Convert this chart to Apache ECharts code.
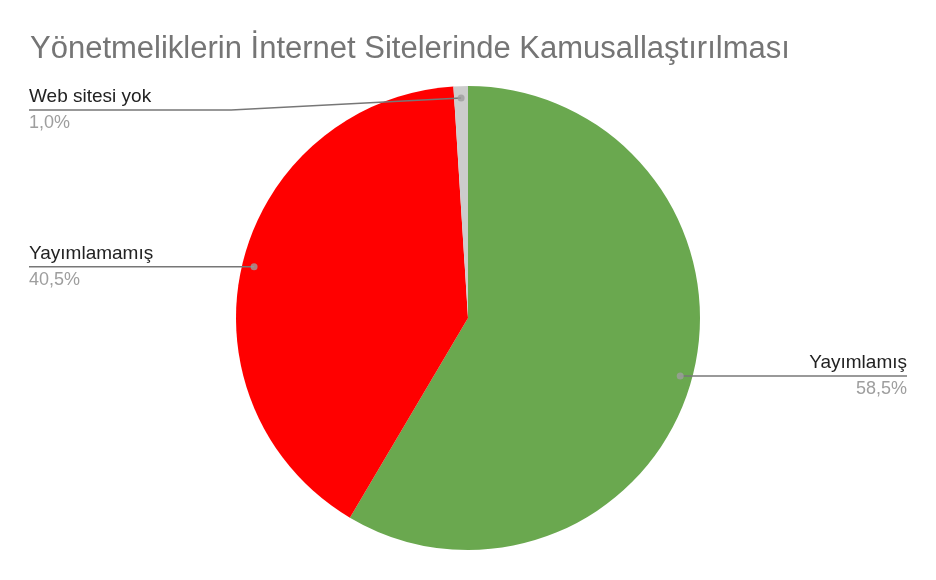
<!DOCTYPE html>
<html>
<head>
<meta charset="utf-8">
<script src="https://cdn.jsdelivr.net/npm/echarts@6/dist/echarts.min.js"></script>
<style>
  html, body { margin: 0; padding: 0; background: #fff; }
  #chart { width: 936px; height: 580px; }
</style>
</head>
<body>
<div id="chart"></div>
<script>
var categories = ['Yayımlamış', 'Yayımlamamış', 'Web sitesi yok'];
var shares = [58.5, 40.5, 1.0];
var colors = ['#6aa84f', '#ff0000', '#cccccc'];

var FONT = '"Liberation Sans", Arial, sans-serif';
var CENTER = [468, 318];

function pieData(transparent) {
    return categories.map(function (name, i) {
        return {
            name: name,
            value: shares[i],
            itemStyle: { color: transparent ? 'rgba(0,0,0,0)' : colors[i] }
        };
    });
}

// angle (0-100) at the middle of every slice, for the little dots
function midAngles() {
    var out = [];
    var acc = 0;
    for (var i = 0; i < shares.length; i++) {
        out.push([220, acc + shares[i] / 2]);
        acc += shares[i];
    }
    return out;
}

function pct(v) {
    return v.toFixed(1).replace('.', ',') + '%';
}

var myChart = echarts.init(document.getElementById('chart'));
var option = {
    backgroundColor: '#ffffff',
    animation: false,
    title: {
        text: 'Yönetmeliklerin İnternet Sitelerinde Kamusallaştırılması',
        left: 30,
        top: 34,
        padding: 0,
        textStyle: { fontFamily: FONT, fontSize: 31, fontWeight: 'normal', color: '#757575' }
    },
    polar: { center: CENTER, radius: 232 },
    angleAxis: { type: 'value', min: 0, max: 100, startAngle: 90, clockwise: true, show: false },
    radiusAxis: { type: 'value', min: 0, max: 232, show: false },
    series: [
        {
            type: 'pie',
            center: CENTER,
            radius: 232,
            startAngle: 90,
            clockwise: true,
            silent: true,
            label: { show: false },
            labelLine: { show: false },
            itemStyle: { borderWidth: 0 },
            data: pieData(false)
        },
        {
            type: 'pie',
            center: CENTER,
            radius: 220,
            startAngle: 90,
            clockwise: true,
            silent: true,
            z: 3,
            itemStyle: { borderWidth: 0 },
            label: {
                show: true,
                position: 'outside',
                alignTo: 'edge',
                edgeDistance: 29,
                verticalAlign: 'middle',
                formatter: function (p) {
                    return '{n|' + p.name + '}\n{p|' + pct(p.value) + '}';
                },
                rich: {
                    n: { fontFamily: FONT, fontSize: 19, color: '#222222', lineHeight: 26 },
                    p: { fontFamily: FONT, fontSize: 18, color: '#9e9e9e', lineHeight: 26 }
                }
            },
            labelLine: {
                show: true,
                length: 0,
                length2: 10,
                lineStyle: { color: '#777777', width: 1.5 }
            },
            labelLayout: function (p) {
                var pts = p.labelLinePoints;
                var r = p.labelRect;
                if (!pts) return {};
                var isLeft = r.x < pts[0][0];
                var endX = isLeft ? r.x : r.x + r.width;
                if (p.dataIndex === 2) {
                    var y = pts[0][1] + 12;
                    return {
                        dy: 12,
                        labelLinePoints: [pts[0], [r.x + r.width + 80, y], [endX, y]]
                    };
                }
                return { labelLinePoints: [pts[0], [endX, pts[0][1]]] };
            },
            data: pieData(true)
        },
        {
            type: 'scatter',
            coordinateSystem: 'polar',
            symbol: 'circle',
            symbolSize: 7,
            silent: true,
            z: 5,
            itemStyle: { color: '#9e9e9e' },
            data: midAngles()
        }
    ]
};

myChart.setOption(option);
</script>
</body>
</html>
